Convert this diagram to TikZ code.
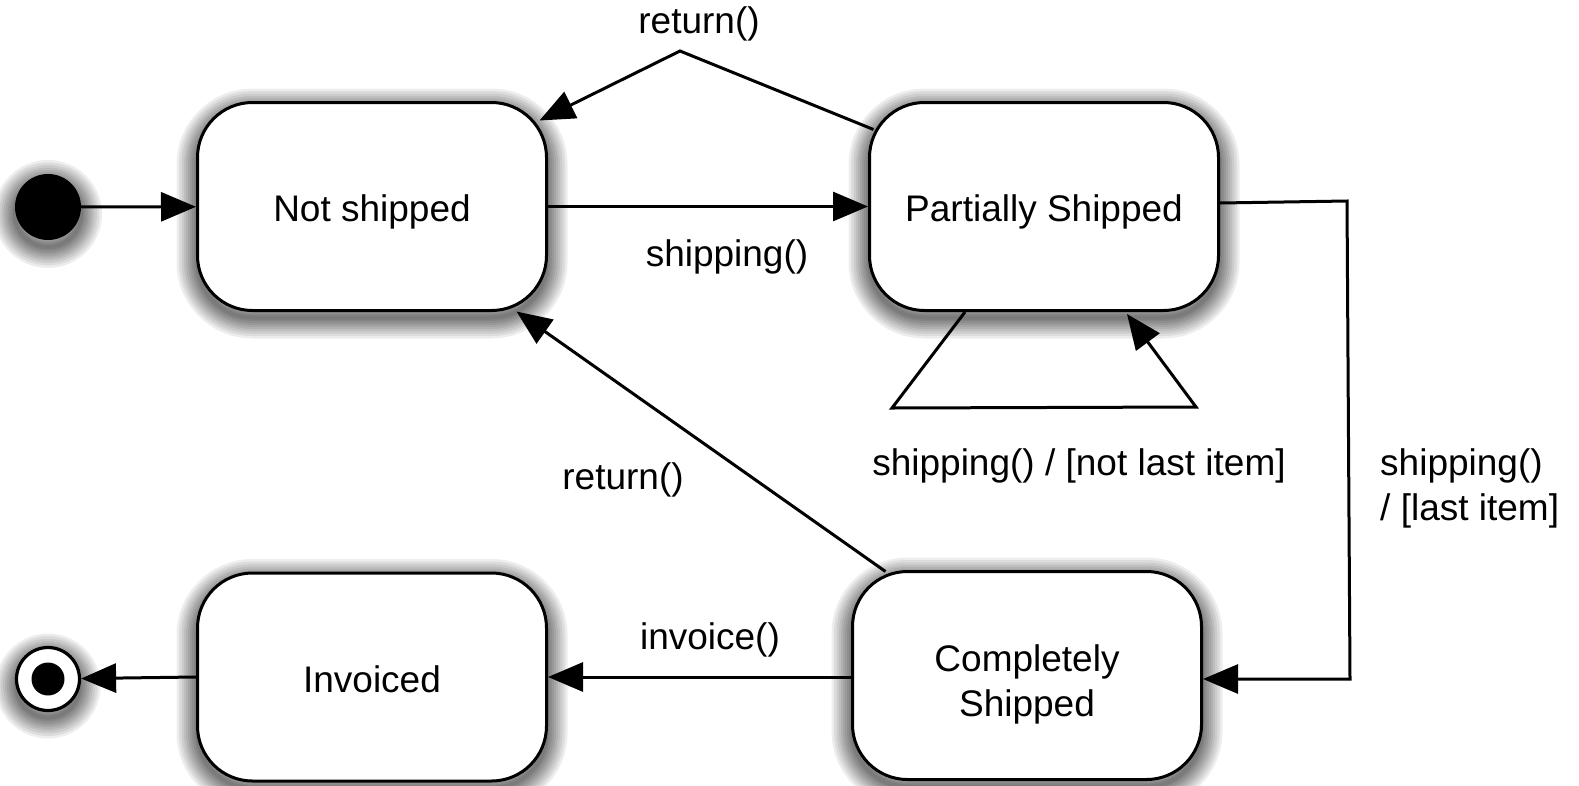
\documentclass[tikz,border=0pt]{standalone}
\usepackage{fontspec}
\setmainfont{Liberation Sans}
\usetikzlibrary{arrows.meta,calc}

\tikzset{
  % one translucent ring of the soft drop shadow
  shadowring/.style={preaction={draw=black, fill=none, draw opacity=0.07,
      line width=#1, transform canvas={yshift=-7pt}}},
  softshadow/.style={shadowring=42pt, shadowring=37pt, shadowring=32pt,
      shadowring=27pt, shadowring=23pt, shadowring=19pt, shadowring=15pt,
      shadowring=11pt, shadowring=7pt, shadowring=4pt},
  statebox/.style={softshadow, draw, line width=3pt, fill=white, rounded corners=55pt,
      minimum width=349pt, minimum height=208pt, align=center,
      text height=30.4pt, text depth=0pt},
  initstate/.style={softshadow, circle, fill=black, inner sep=0pt, minimum size=66pt},
  finalstate/.style={softshadow, circle, draw, line width=3.2pt, fill=white, inner sep=0pt,
      minimum size=63pt},
  trans/.style={line width=3pt, -{Triangle[length=35pt,width=29pt]}},
  lbl/.style={inner sep=0pt, align=left}
}

\begin{document}
\begin{tikzpicture}[x=1pt, y=-1pt, font=\fontsize{37}{45}\selectfont]
  \useasboundingbox (0,0) rectangle (1579,785);

  % states
  \node[initstate]  (init) at (48,207) {};
  \node[statebox]   (ns)   at (372,206.5) {Not shipped};
  \node[statebox]   (ps)   at (1044,206.5) {Partially Shipped};
  \node[statebox, text height=81pt] (cs) at (1027,675.5) {Completely\\Shipped};
  \node[statebox]   (inv)  at (372,677) {Invoiced};
  \node[finalstate] (fin)  at (48,679) {};
  \fill (fin) circle[radius=16.5pt];

  % helper points of the bent transitions
  \coordinate (retTop)   at (680,51);
  \coordinate (loopL)    at (892,408);
  \coordinate (loopR)    at (1196,407);
  \coordinate (lastTop)  at (1347,201);
  \coordinate (lastBot)  at (1350,679);

  % transitions
  \draw[trans] (init) -- (ns);
  \draw[trans] (ns) -- (ps);
  \draw[trans] ($(ps.north west)+(5.5,28.5)$) -- (retTop) -- ($(ns.north east)+(-8.5,19.5)$);
  \draw[trans] ($(ps.south)+(-79,0)$) -- (loopL) -- (loopR) -- ($(ps.south)+(83,2)$);
  \draw[trans] ($(ps.east)+(0,-3.5)$) -- (lastTop) -- (lastBot) -- ($(cs.east)+(0,3.5)$);
  \draw[trans] ($(cs.north west)+(34.5,1.5)$) -- ($(ns.south east)+(-31.5,-0.5)$);
  \draw[trans] ($(cs.west)+(0,1.5)$) -- (inv.east);
  \draw[trans] (inv.west) -- (fin);

  % transition labels
  \node[lbl] (l1) at (699,24)   {return()};
  \node[lbl] (l2) at (727,257)  {shipping()};
  \node[lbl] (l3) at (1079,466) {shipping() / [not last item]};
  \node[lbl] (l4) at (623,480)  {return()};
  \node[lbl] (l5) at (710,640)  {invoice()};
  \node[lbl, anchor=west] (l6) at (1380,488) {shipping()\\/ [last item]};
\end{tikzpicture}
\end{document}
